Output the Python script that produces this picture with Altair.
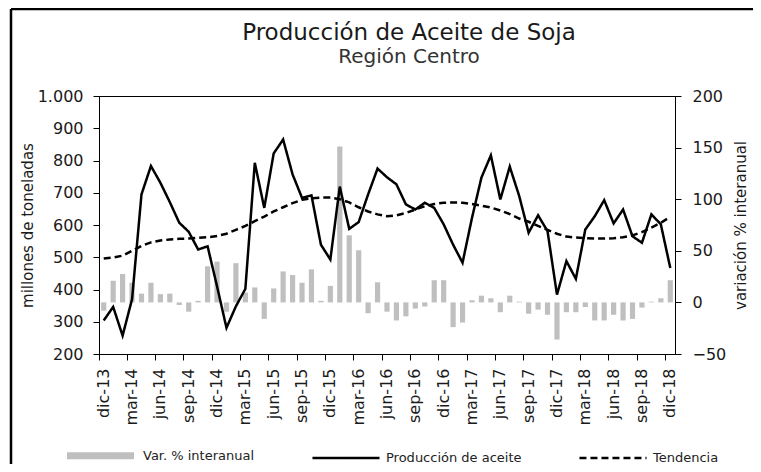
import altair as alt
import pandas as pd

# ---------------- data ----------------
meses = [
    "dic-13",
    "ene-14", "feb-14", "mar-14", "abr-14", "may-14", "jun-14", "jul-14", "ago-14", "sep-14", "oct-14", "nov-14", "dic-14",
    "ene-15", "feb-15", "mar-15", "abr-15", "may-15", "jun-15", "jul-15", "ago-15", "sep-15", "oct-15", "nov-15", "dic-15",
    "ene-16", "feb-16", "mar-16", "abr-16", "may-16", "jun-16", "jul-16", "ago-16", "sep-16", "oct-16", "nov-16", "dic-16",
    "ene-17", "feb-17", "mar-17", "abr-17", "may-17", "jun-17", "jul-17", "ago-17", "sep-17", "oct-17", "nov-17", "dic-17",
    "ene-18", "feb-18", "mar-18", "abr-18", "may-18", "jun-18", "jul-18", "ago-18", "sep-18", "oct-18", "nov-18", "dic-18",
]

produccion = [
    304,
    346, 257, 370, 695, 783, 731, 671, 607, 579, 524, 534, 410,
    281, 348, 402, 793, 653, 822, 865, 757, 684, 692, 539, 493,
    719, 588, 609, 695, 775, 748, 726, 664, 648, 669, 653, 602,
    539, 483, 622, 747, 816, 679, 781, 690, 576, 630, 581, 384,
    488, 433, 586, 627, 677, 605, 648, 565, 545, 633, 602, 467,
]

tendencia = [
    496,
    499, 505, 520, 535, 546, 552, 555, 557, 558, 560, 562, 566,
    573, 585, 597, 612, 626, 642, 655, 668, 678, 683, 685, 685,
    680, 670, 655, 642, 633, 627, 630, 637, 648, 658, 665, 669,
    670, 669, 665, 660, 654, 645, 634, 620, 610, 597, 585, 573,
    564, 561, 559, 558, 558, 559, 562, 568, 578, 592, 607, 625,
]

variacion = [
    -8,
    21, 27.5, 19, 8.5, 19, 8, 8.5, -2.5, -9, 1.5, 35, 39.5,
    -9, 38, 9.5, 14.5, -16, 13.5, 30, 26.5, 19, 32, 1.5, 16,
    151, 65, 50.5, -10.5, 19.5, -9, -17.5, -13.5, -6, -4, 21.5, 21.5,
    -24, -19.5, 2, 6.5, 4, -9.5, 6.5, 0.7, -11, -7, -12, -36,
    -9.5, -9.5, -4.5, -17.5, -17.5, -12, -17.5, -16, -5, 0.7, 4, 21.5,
]

series = ["Var. % interanual", "Producción de aceite", "Tendencia"]
etiquetas_x = meses[::3]
ticks_izq = [200, 300, 400, 500, 600, 700, 800, 900, 1000]
ticks_der = [-50, 0, 50, 100, 150, 200]

# ---------------- tables ----------------
bars_df = pd.DataFrame({"mes": meses, "valor": variacion, "serie": series[0]})
lines_df = pd.concat(
    [
        pd.DataFrame({"mes": meses, "idx": range(len(meses)), "valor": produccion, "serie": series[1]}),
        pd.DataFrame({"mes": meses, "idx": range(len(meses)), "valor": tendencia, "serie": series[2]}),
    ],
    ignore_index=True,
)

FONT = "DejaVu Sans"

x_enc = alt.X(
    "mes:N",
    sort=meses,
    scale=alt.Scale(paddingInner=0, paddingOuter=0),
    axis=alt.Axis(
        values=etiquetas_x,
        labelAngle=270,
        bandPosition=0,
        title=None,
        tickSize=6,
        labelPadding=8,
        labelFontSize=16,
    ),
)

color_enc = alt.Color(
    "serie:N",
    scale=alt.Scale(domain=series, range=["#BFBFBF", "#000000", "#000000"]),
    legend=alt.Legend(title=None),
)

# outer frame of the figure (top and left edges are the visible ones)
frame_df = pd.DataFrame({"k": [0]})
frame_top = (
    alt.Chart(frame_df)
    .mark_rule(stroke="black", strokeWidth=2.5)
    .encode(x=alt.value(-88), x2=alt.value(900), y=alt.value(-87))
)
frame_left = (
    alt.Chart(frame_df)
    .mark_rule(stroke="black", strokeWidth=2.5)
    .encode(x=alt.value(-88), y=alt.value(-87), y2=alt.value(500))
)

bars = (
    alt.Chart(bars_df)
    .mark_bar(width=alt.RelativeBandSize(0.55))
    .encode(
        x=x_enc,
        y=alt.Y(
            "valor:Q",
            scale=alt.Scale(domain=[-50, 200], nice=False),
            axis=alt.Axis(
                orient="right",
                values=ticks_der,
                title="variación % interanual",
                titleAngle=270,
                tickSize=6,
                labelPadding=11,
                titlePadding=23,
                labelFontSize=16,
            ),
        ),
        color=color_enc,
    )
)

lines = (
    alt.Chart(lines_df)
    .mark_line()
    .encode(
        x=x_enc,
        y=alt.Y(
            "valor:Q",
            scale=alt.Scale(domain=[200, 1000], nice=False, zero=False),
            axis=alt.Axis(
                orient="left",
                values=ticks_izq,
                title="millones de toneladas",
                tickSize=6,
                labelPadding=10,
                titlePadding=2,
                labelFontSize=16,
                labelExpr="replace(format(datum.value, ','), ',', '.')",
            ),
        ),
        color=color_enc,
        strokeDash=alt.StrokeDash(
            "serie:N",
            scale=alt.Scale(domain=series, range=[[1, 0], [1, 0], [7, 4]]),
            legend=alt.Legend(title=None),
        ),
        strokeWidth=alt.StrokeWidth(
            "serie:N",
            scale=alt.Scale(domain=series, range=[7, 2.5, 2.5], type="ordinal"),
            legend=alt.Legend(title=None),
        ),
        order=alt.Order("idx:Q"),
    )
)

chart = (
    alt.layer(frame_top, frame_left, bars, lines)
    .resolve_scale(y="independent")
    .properties(
        width=576,
        height=258,
        padding={"left": 91, "top": 88, "right": 78, "bottom": 110},
        autosize=alt.AutoSizeParams(type="none"),
        title=alt.Title(
            "Producción de Aceite de Soja",
            subtitle="Región Centro",
            anchor="middle",
            frame="group",
            offset=-59,
            dx=22,
            font=FONT,
            fontSize=23,
            fontWeight="normal",
            color="#1a1a1a",
            subtitleFont=FONT,
            subtitleFontSize=20,
            subtitleColor="#333333",
            subtitlePadding=2,
        ),
    )
    .configure_view(stroke="black", strokeWidth=1)
    .configure_axis(
        labelFont=FONT,
        labelColor="#1a1a1a",
        titleFont=FONT,
        titleFontSize=15,
        titleFontWeight="normal",
        titleColor="#1a1a1a",
        domainColor="black",
        tickColor="black",
        grid=False,
    )
    .configure_legend(
        orient="none",
        legendX=-36,
        legendY=322,
        direction="horizontal",
        symbolType="stroke",
        symbolSize=4500,
        labelFont=FONT,
        labelFontSize=13,
        labelColor="#222222",
        labelOffset=5,
        columnPadding=52,
        padding=0,
    )
)

chart.save("out.html", embed_options={"renderer": "svg", "actions": False})
